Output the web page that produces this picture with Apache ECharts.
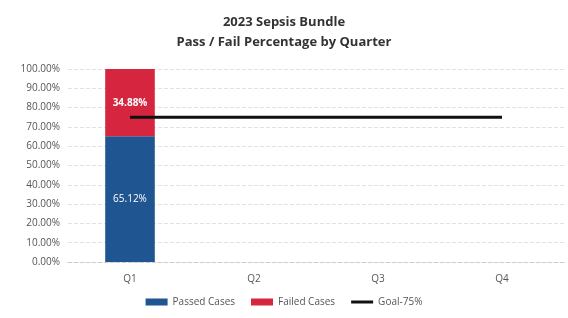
<!DOCTYPE html>
<html>
<head>
<meta charset="utf-8">
<script src="https://cdn.jsdelivr.net/npm/echarts@6/dist/echarts.min.js"></script>
<style>
  html, body { margin: 0; padding: 0; background: #fff; }
  #chart { width: 568px; height: 318px; }
</style>
</head>
<body>
<div id="chart"></div>
<script>
// 数据
var quarters = ['Q1', 'Q2', 'Q3', 'Q4'];
var passed = [65.12, null, null, null];
var failed = [34.88, null, null, null];
var goal = [75, 75, 75, 75];

var chart = echarts.init(document.getElementById('chart'));
var font = '"Open Sans", "Liberation Sans", sans-serif';

var option = {
    animation: false,
    title: {
        text: '2023 Sepsis Bundle\nPass / Fail Percentage by Quarter',
        left: 'center',
        top: 7,
        textStyle: { fontSize: 13, fontWeight: 'bold', color: '#333', lineHeight: 20, fontFamily: font }
    },
    legend: {
        bottom: 6,
        left: 'center',
        itemGap: 16,
        itemWidth: 22,
        itemHeight: 7,
        textStyle: { fontSize: 10, color: '#555', fontFamily: font },
        data: [
            { name: 'Passed Cases', icon: 'rect' },
            { name: 'Failed Cases', icon: 'rect' },
            // 图例里只要一条线，不要圆点
            { name: 'Goal-75%', icon: 'path://M0,0 L22,0 L22,3 L0,3 Z', itemStyle: { color: '#111' } }
        ]
    },
    grid: { left: 68, right: 4, top: 69, bottom: 56 },
    xAxis: {
        type: 'category',
        data: quarters,
        axisLine: { lineStyle: { color: '#ccc', type: 'dashed' } },
        axisTick: { show: false },
        axisLabel: { color: '#555', fontSize: 10, margin: 12, fontFamily: font }
    },
    yAxis: {
        type: 'value',
        min: 0,
        max: 100,
        interval: 10,
        axisLabel: {
            color: '#555', fontSize: 10, fontFamily: font, margin: 8,
            formatter: function (v) { return v.toFixed(2) + '%'; }
        },
        splitLine: { lineStyle: { color: '#e2e2e2', type: 'dashed' } }
    },
    series: [
        {
            name: 'Passed Cases',
            type: 'bar',
            stack: 'total',
            barWidth: '40%',
            data: passed,
            itemStyle: { color: '#1f5591' },
            label: {
                show: true, position: 'inside', color: '#fff', fontSize: 10, fontFamily: font,
                formatter: function (p) { return p.value.toFixed(2) + '%'; }
            }
        },
        {
            name: 'Failed Cases',
            type: 'bar',
            stack: 'total',
            data: failed,
            itemStyle: { color: '#d6263f' },
            label: {
                show: true, position: 'inside', color: '#fff', fontSize: 10, fontWeight: 'bold', fontFamily: font,
                formatter: function (p) { return p.value.toFixed(2) + '%'; }
            }
        },
        {
            name: 'Goal-75%',
            type: 'line',
            data: goal,
            symbol: 'none',
            lineStyle: { color: '#111', width: 3 },
            itemStyle: { color: '#111' }
        }
    ]
};
chart.setOption(option);
</script>
</body>
</html>
